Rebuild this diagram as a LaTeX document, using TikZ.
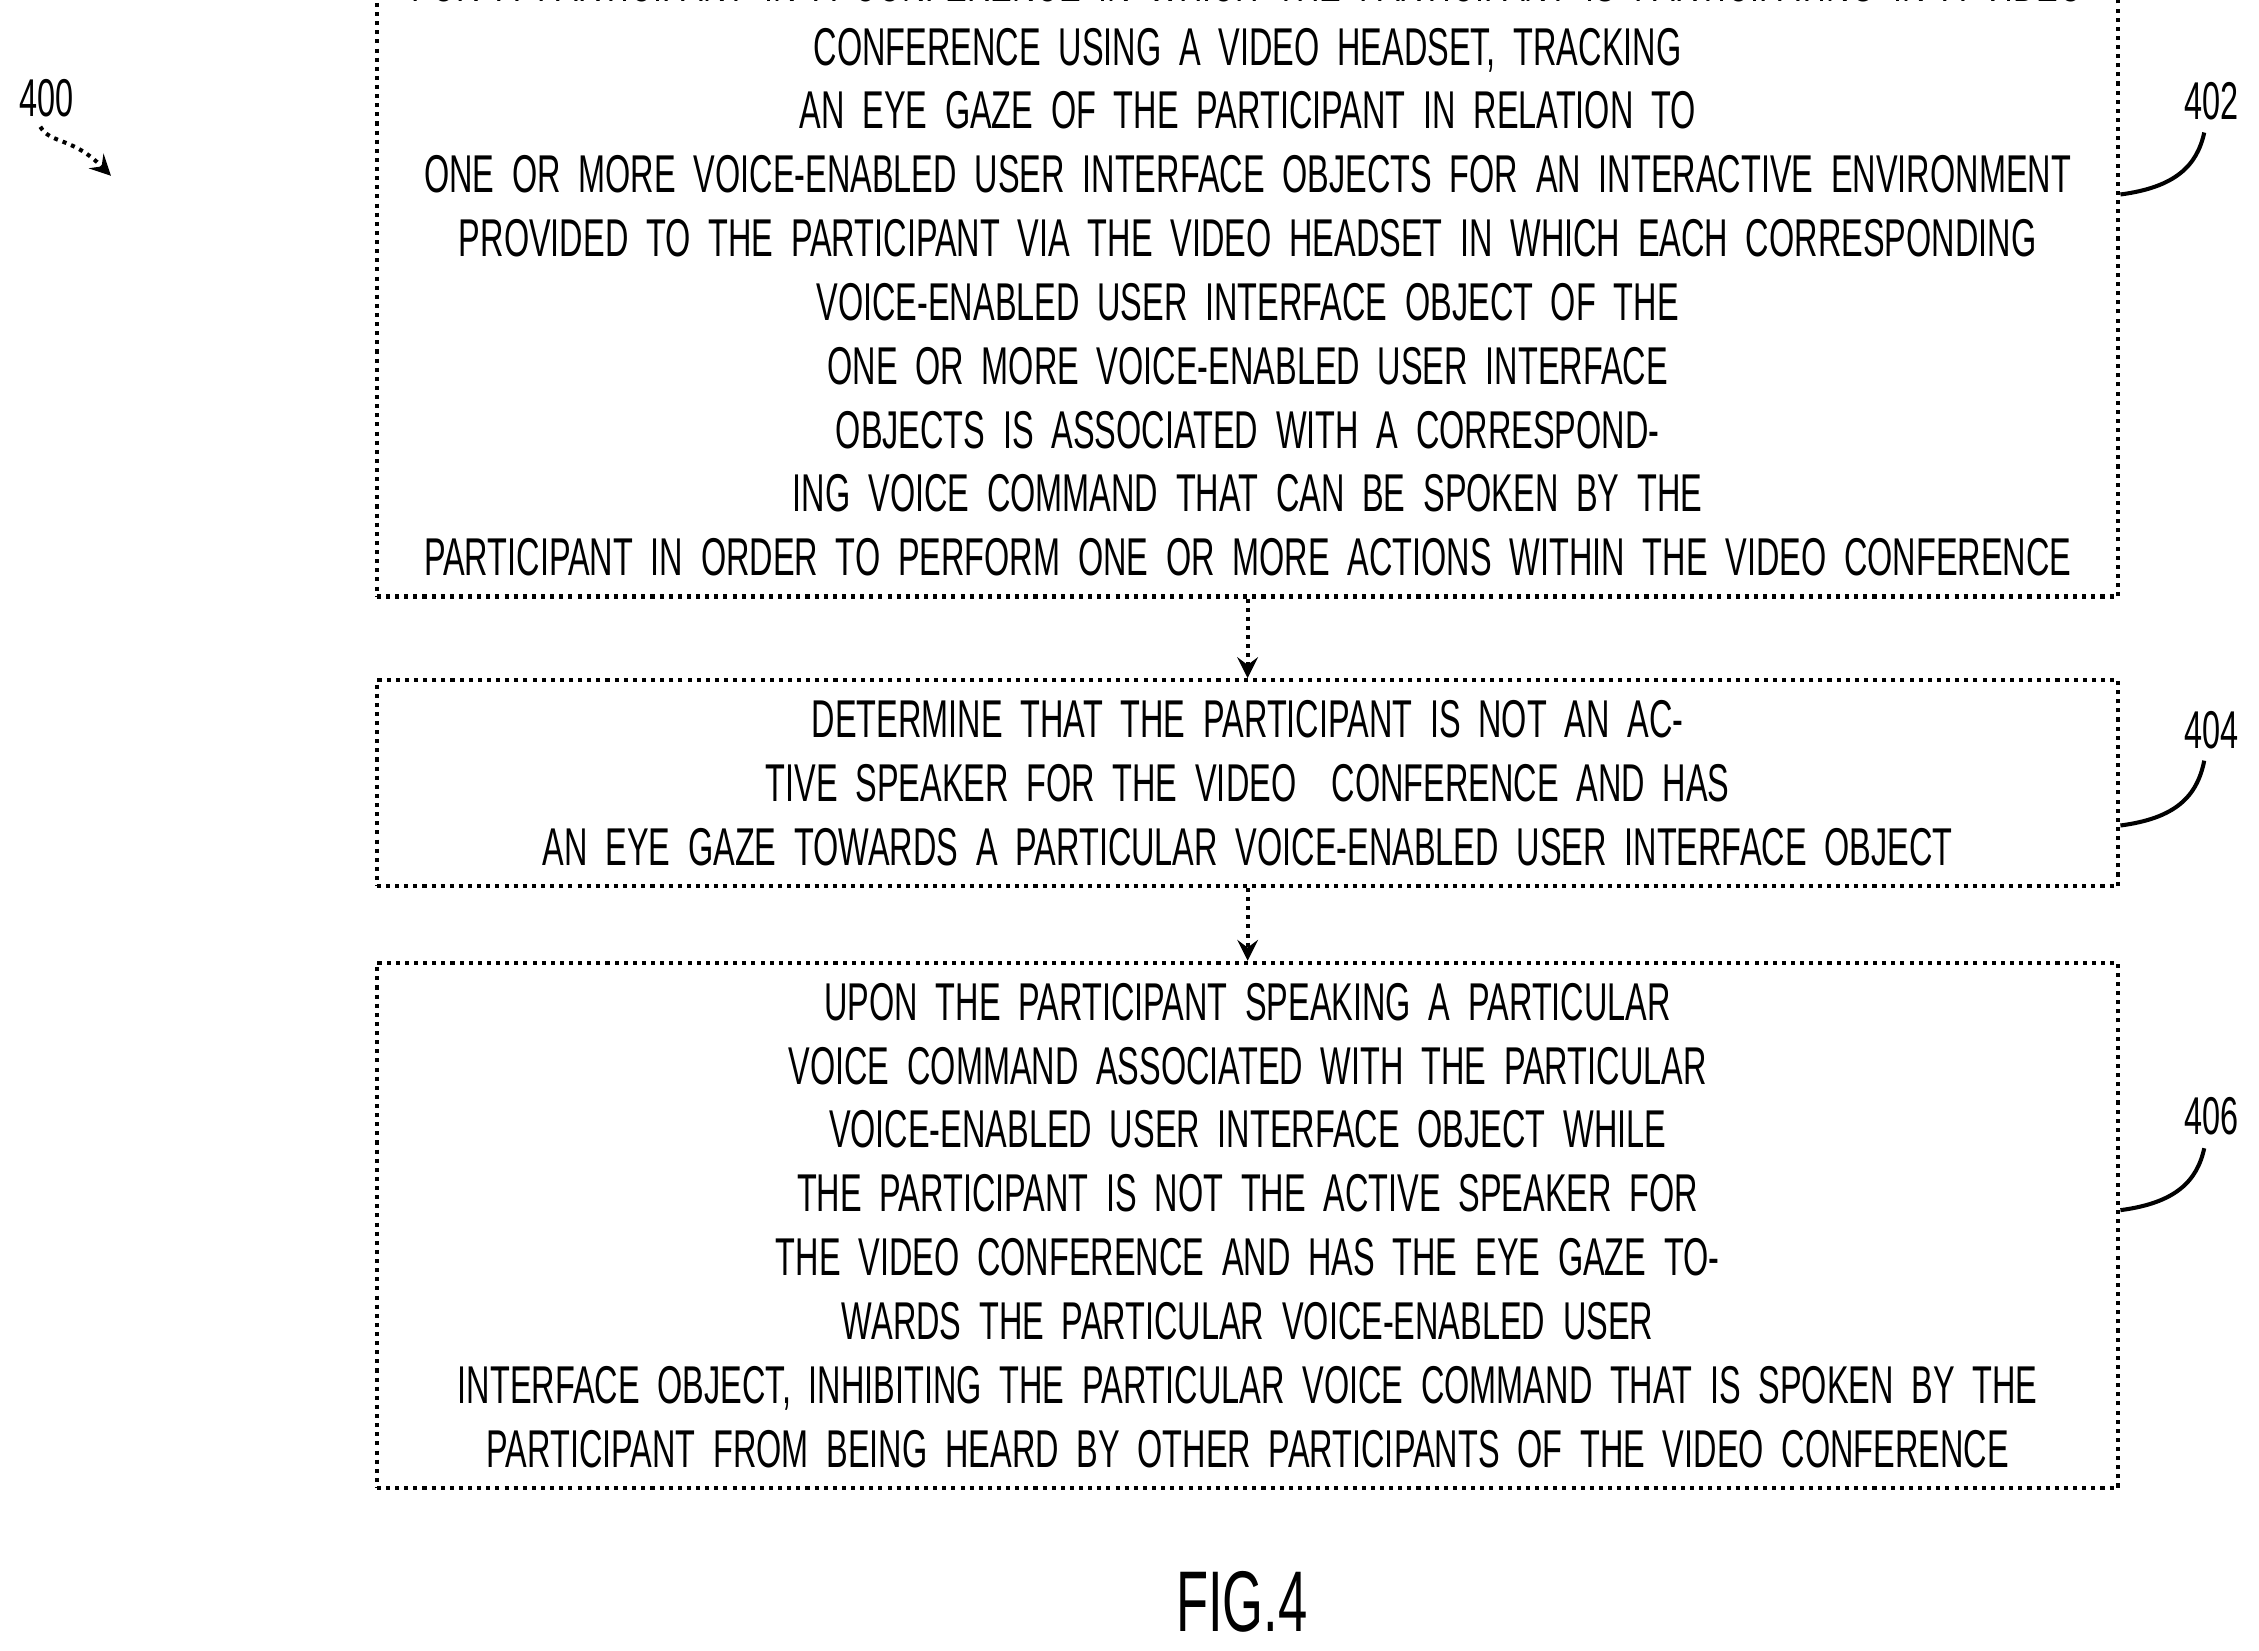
\documentclass[tikz,border=0pt]{standalone}
\usepackage{fontspec}
\setmainfont{Liberation Sans}[FakeStretch=0.61]
\usetikzlibrary{positioning}
\tikzset{
  stepbox/.style={draw, densely dotted, thick, minimum width=12.07cm, text width=11.8cm, align=center,
    font=\fontsize{10.5}{12.6}\selectfont, inner sep=4pt},
  flow/.style={->, >=stealth, densely dotted, thick},
  tag/.style={font=\fontsize{10.5}{12}\selectfont}
}
\begin{document}
\begin{tikzpicture}[x=0.01cm, y=-0.01cm]
    \useasboundingbox (0,0) rectangle (1568,1146);

    \node[stepbox, minimum height=3.45cm] (s402) at (866,187.5) {FOR A PARTICIPANT IN A CONFERENCE IN WHICH THE PARTICIPANT IS PARTICIPATING IN A VIDEO\\
    CONFERENCE USING A VIDEO HEADSET, TRACKING AN EYE GAZE OF THE PARTICIPANT IN RELATION TO\\
    ONE OR MORE VOICE-ENABLED USER INTERFACE OBJECTS FOR AN INTERACTIVE ENVIRONMENT\\
    PROVIDED TO THE PARTICIPANT VIA THE VIDEO HEADSET IN WHICH EACH CORRESPONDING\\
    VOICE-ENABLED USER INTERFACE OBJECT OF THE ONE OR MORE VOICE-ENABLED USER INTERFACE\\
    OBJECTS IS ASSOCIATED WITH A CORRESPONDING VOICE COMMAND THAT CAN BE SPOKEN BY THE\\
    PARTICIPANT IN ORDER TO PERFORM ONE OR MORE ACTIONS WITHIN THE VIDEO CONFERENCE};

    \node[stepbox, minimum height=1.21cm] (s404) at (866,543.5) {DETERMINE THAT THE PARTICIPANT IS NOT AN ACTIVE SPEAKER FOR THE VIDEO\ \ CONFERENCE AND HAS\\
    AN EYE GAZE TOWARDS A PARTICULAR VOICE-ENABLED USER INTERFACE OBJECT};

    \node[stepbox, minimum height=2.51cm] (s406) at (866,850.5) {UPON THE PARTICIPANT SPEAKING A PARTICULAR VOICE COMMAND ASSOCIATED WITH THE PARTICULAR\\
    VOICE-ENABLED USER INTERFACE OBJECT WHILE THE PARTICIPANT IS NOT THE ACTIVE SPEAKER FOR\\
    THE VIDEO CONFERENCE AND HAS THE EYE GAZE TOWARDS THE PARTICULAR VOICE-ENABLED USER\\
    INTERFACE OBJECT, INHIBITING THE PARTICULAR VOICE COMMAND THAT IS SPOKEN BY THE\\
    PARTICIPANT FROM BEING HEARD BY OTHER PARTICIPANTS OF THE VIDEO CONFERENCE};

    \draw[flow] (s402) -- (s404);
    \draw[flow] (s404) -- (s406);

    % reference numerals
    \node[tag] (n400) at (32,68) {400};
    \coordinate (a400) at (77,122);
    \draw[flow] (28,88) .. controls (35,100) and (50,95) .. (a400);
    \node[tag] (n402) at (1535,70) {402};
    \draw[thick] (s402.east |- 0,135) .. controls (1510,130) and (1525,115) .. (1530,92);
    \node[tag] (n404) at (1535,507) {404};
    \draw[thick] (s404.east |- 0,573) .. controls (1510,568) and (1525,553) .. (1530,528);
    \node[tag] (n406) at (1535,775) {406};
    \draw[thick] (s406.east |- 0,840) .. controls (1510,835) and (1525,820) .. (1530,797);

    \node[font=\fontsize{17}{20}\selectfont] (fig) at (862,1112) {FIG.4};
\end{tikzpicture}
\end{document}
